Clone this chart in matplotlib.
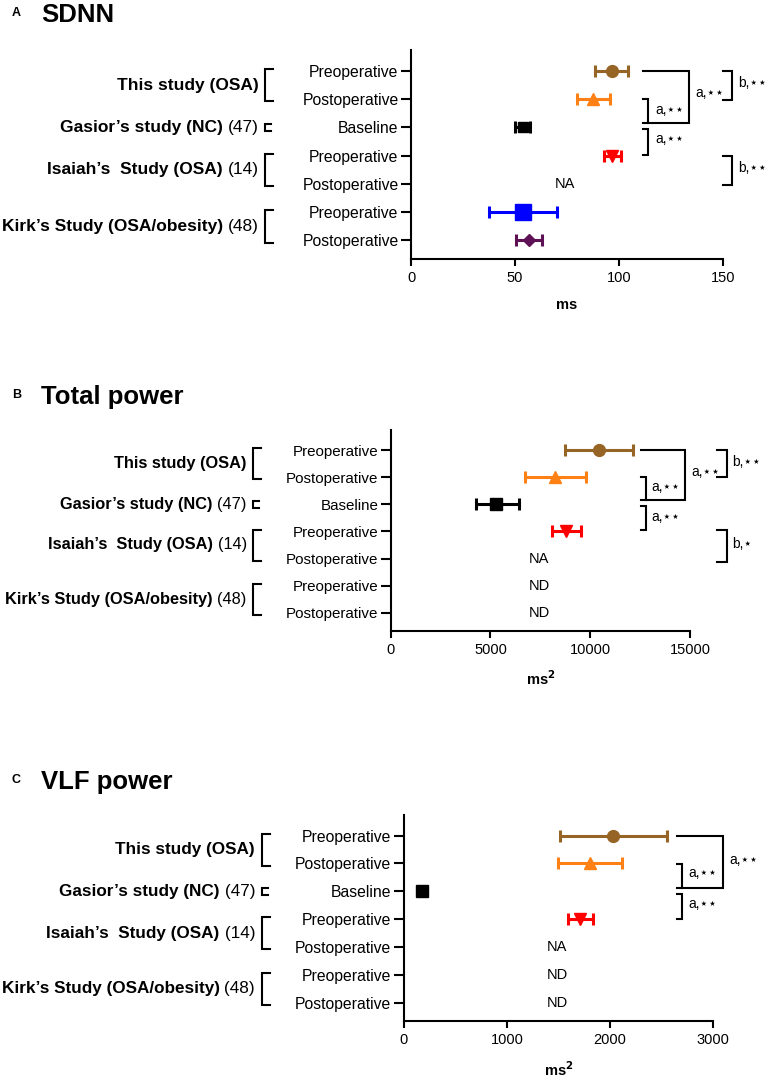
import matplotlib
matplotlib.use("Agg")
import matplotlib.pyplot as plt
import matplotlib.transforms as mtransforms

plt.rcParams['font.family'] = ['Liberation Sans', 'DejaVu Sans']

W, H = 768, 1082

rows = ["Preoperative", "Postoperative", "Baseline", "Preoperative",
        "Postoperative", "Preoperative", "Postoperative"]
group_names = ["This study (OSA)", "Gasior’s study (NC)", "Isaiah’s  Study (OSA)",
               "Kirk’s Study (OSA/obesity)"]
group_refs = ["", "(47)", "(14)", "(48)"]
group_rows = [(0, 1), (2, 2), (3, 4), (5, 6)]

colors = ["#966424", "#FF8015", "black", "#FF0000", None, "#0000FF", "#5E1255"]
markers = ["o", "^", "s", "v", None, "s", "D"]
msizes = [8.5, 8.5, 7, 8, 0, 11, 6.5]

# SDNN (ms)
sdnn_mean = [96.5, 87.5, 53.7, 96.6, None, 53.7, 56.9]
sdnn_low = [88.5, 80.0, 50.0, 92.8, None, 37.5, 50.5]
sdnn_high = [104.4, 95.7, 57.2, 100.8, None, 70.0, 63.0]
sdnn_notes = {4: "NA"}

# Total power (ms^2)
tp_mean = [10430, 8230, 5300, 8800, None, None, None]
tp_low = [8750, 6715, 4265, 8100, None, None, None]
tp_high = [12130, 9765, 6415, 9515, None, None, None]
tp_notes = {4: "NA", 5: "ND", 6: "ND"}

# VLF power (ms^2)
vlf_mean = [2029, 1810, 174, 1707, None, None, None]
vlf_low = [1513, 1497, 150, 1593, None, None, None]
vlf_high = [2556, 2120, 200, 1830, None, None, None]
vlf_notes = {4: "NA", 5: "ND", 6: "ND"}

A2 = "a,⋆⋆"
B2 = "b,⋆⋆"
B1 = "b,⋆"

# significance brackets: (x start top, x vertical, x end bottom, y top, y bottom, text, text x, text y)
sdnn_sig = [
    (111.5, 133.7, 114, 0, 1.84, A2, 136.5, 0.8),
    (111.5, 114, 111.5, 1.0, 1.84, A2, 117.3, 1.4),
    (111.5, 114, 111.5, 2.06, 2.98, A2, 117.3, 2.42),
    (150, 154.3, 150, 0, 1.03, B2, 157.5, 0.43),
    (150, 154.3, 150, 3.03, 4.05, B2, 157.5, 3.44),
]
tp_sig = [
    (12550, 14750, 12770, 0, 1.83, A2, 15050, 0.8),
    (12550, 12770, 12550, 0.99, 1.83, A2, 13050, 1.36),
    (12550, 12770, 12550, 2.07, 2.96, A2, 13050, 2.46),
    (16350, 16830, 16350, 0, 1.01, B2, 17100, 0.43),
    (16350, 16830, 16350, 2.96, 4.13, B1, 17100, 3.45),
]
vlf_sig = [
    (2652, 3094, 2700, 0, 1.89, A2, 3160, 0.87),
    (2652, 2700, 2652, 1.02, 1.89, A2, 2755, 1.35),
    (2652, 2700, 2652, 2.09, 2.99, A2, 2755, 2.47),
]

panels = [
    dict(letter="A", title="SDNN", ty=15, box=(411, 50, 723, 259), xmax=150,
         xticks=[0, 50, 100, 150], xlabel="ms", mean=sdnn_mean, low=sdnn_low,
         high=sdnn_high, notes=sdnn_notes, note_x=74, sig=sdnn_sig,
         lab_r=258.5, brk_x=265, base_ms=7, gfs=12.5, tfs=11.3),
    dict(letter="B", title="Total power", ty=397, box=(390.7, 430, 690, 630.7), xmax=15000,
         xticks=[0, 5000, 10000, 15000], xlabel="ms$^\\mathbf{2}$", mean=tp_mean, low=tp_low,
         high=tp_high, notes=tp_notes, note_x=7430, sig=tp_sig,
         lab_r=246.7, brk_x=253.3, base_ms=9, gfs=11.8, tfs=10.9),
    dict(letter="C", title="VLF power", ty=782, box=(403.7, 815, 713.3, 1021), xmax=3000,
         xticks=[0, 1000, 2000, 3000], xlabel="ms$^\\mathbf{2}$", mean=vlf_mean, low=vlf_low,
         high=vlf_high, notes=vlf_notes, note_x=1487, sig=vlf_sig,
         lab_r=255, brk_x=261.7, base_ms=9, gfs=12.3, tfs=11.3),
]

fig = plt.figure(figsize=(W / 100, H / 100), dpi=100)

for p in panels:
    l, t, r, b = p["box"]
    ax = fig.add_axes([l / W, 1 - b / H, (r - l) / W, (b - t) / H])
    ax.set_xlim(0, p["xmax"])
    ax.set_ylim(6.66, -0.74)
    for s in ["top", "right"]:
        ax.spines[s].set_visible(False)
    for s in ["left", "bottom"]:
        ax.spines[s].set_linewidth(1.5)
    ax.set_yticks(range(len(rows)))
    ax.set_yticklabels(rows, fontsize=p["tfs"])
    ax.set_xticks(p["xticks"])
    ax.set_xticklabels([str(v) for v in p["xticks"]], fontsize=10.5)
    ax.tick_params(axis="y", length=7.5, width=1.5, pad=1.5)
    ax.tick_params(axis="x", length=5, width=1.5, pad=4)
    ax.set_xlabel(p["xlabel"], fontsize=10.5, fontweight="bold", labelpad=9)

    for i in range(len(rows)):
        m = p["mean"][i]
        if m is None:
            continue
        ms = p["base_ms"] if i == 2 else msizes[i]
        ax.errorbar([m], [i], xerr=[[m - p["low"][i]], [p["high"][i] - m]],
                    fmt=markers[i], color=colors[i], ms=ms, elinewidth=2.2,
                    capsize=4.6, capthick=2.2, clip_on=False)
    for i, txt in p["notes"].items():
        ax.text(p["note_x"], i, txt, ha="center", va="center", fontsize=10.5)

    for xa, xv, xb, y0, y1, txt, tx, ty in p["sig"]:
        ax.plot([xa, xv, xv, xb], [y0, y0, y1, y1], color="black", lw=1.5,
                clip_on=False, solid_joinstyle="miter")
        ax.text(tx, ty, txt, ha="left", va="center", fontsize=10, clip_on=False)

    blend = mtransforms.blended_transform_factory(fig.transFigure, ax.transData)
    for name, ref, (r0, r1) in zip(group_names, group_refs, group_rows):
        yc = (r0 + r1) / 2
        if ref:
            t_ref = fig.text(p["lab_r"] / W, yc, ref, transform=blend, ha="right",
                             va="center", fontsize=p["gfs"])
            ax.annotate(name, xy=(0, 0.5), xycoords=t_ref, xytext=(-3.5, 0),
                        textcoords="offset points", ha="right", va="center",
                        fontsize=p["gfs"], fontweight="bold")
        else:
            fig.text(p["lab_r"] / W, yc, name, transform=blend, ha="right",
                     va="center", fontsize=p["gfs"], fontweight="bold")
        if r0 == r1:
            ya, yb, w = r0 - 0.12, r0 + 0.12, 6
        else:
            ya, yb, w = r0 - 0.07, r1 + 0.08, 8
        xb0 = p["brk_x"] / W
        xb1 = (p["brk_x"] + w) / W
        ax.plot([xb1, xb0, xb0, xb1], [ya, ya, yb, yb], color="black", lw=1.5,
                transform=blend, clip_on=False, solid_joinstyle="miter")

    fig.text(11.7 / W, 1 - (p["ty"] - 2) / H, p["letter"], fontsize=9,
             fontweight="bold", ha="left", va="center")
    fig.text(41 / W, 1 - p["ty"] / H, p["title"], fontsize=18.5,
             fontweight="bold", ha="left", va="center")

fig.savefig("out.png", dpi=100)
